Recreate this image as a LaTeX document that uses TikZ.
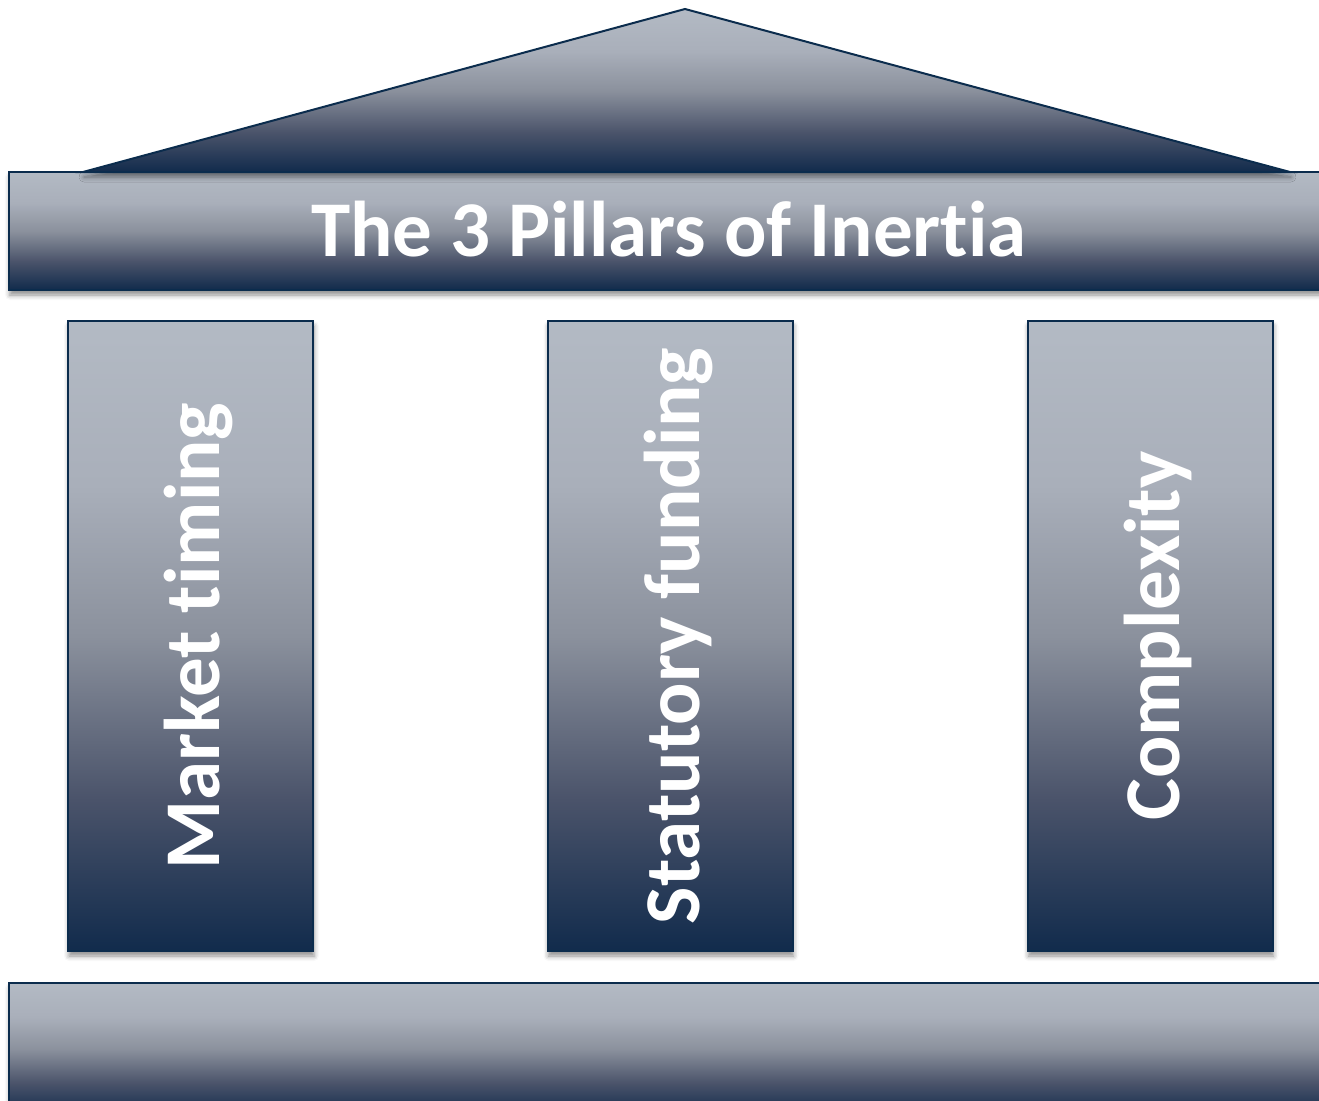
\documentclass[tikz,border=0pt]{standalone}
\usepackage{fontspec}
\setmainfont[Ligatures=NoCommon]{Carlito}
\usetikzlibrary{shadows.blur}

\definecolor{navy}{HTML}{0B2C4D}
\definecolor{slateA}{HTML}{112B4C}
\definecolor{slateB}{HTML}{4A536A}
\definecolor{slateC}{HTML}{8B919D}
\definecolor{slateD}{HTML}{A9AFBA}
\definecolor{slateE}{HTML}{B3BAC4}

% light at the top, dark navy at the bottom
\pgfdeclareverticalshading{slate}{100bp}{color(0bp)=(slateA); color(25bp)=(slateA);
  color(37bp)=(slateB); color(50bp)=(slateC); color(62bp)=(slateD);
  color(75bp)=(slateE); color(100bp)=(slateE)}

\tikzset{
  stone/.style={draw=navy, line width=2pt, shading=slate,
    blur shadow={shadow xshift=1pt, shadow yshift=-5pt, shadow blur radius=5pt, shadow opacity=45}},
  pillarbox/.style={stone, rectangle, inner sep=0pt, minimum width=245pt, minimum height=630pt},
  pillartext/.style={rotate=90, text=white, font=\fontsize{79}{90}\selectfont\bfseries, inner sep=0pt},
  titletext/.style={text=white, font=\fontsize{79}{90}\selectfont\bfseries, inner sep=0pt},
}

\begin{document}
\begin{tikzpicture}[x=1pt, y=-1pt]
  \useasboundingbox (0,0) rectangle (1319,1100);

  % entablature beam
  \path[stone] (9,172) rectangle (1330,290);
  \coordinate (beamc) at (669,256);

  % pediment
  \path[stone] (83,172) -- (685,9) -- (1290,172) -- cycle;

  % base slab
  \path[stone] (9,983) rectangle (1330,1115);

  % pillars
  \node[pillarbox] (p1) at (190.5,636) {};
  \node[pillarbox] (p2) at (670,636) {};
  \node[pillarbox] (p3) at (1150,636) {};

  \node[pillartext] (t1) at ([xshift=8pt]p1.center) {Market timing};
  \node[pillartext] (t2) at ([xshift=8pt]p2.center) {Statutory funding};
  \node[pillartext] (t3) at ([xshift=8pt]p3.center) {Complexity};

  \node[titletext, anchor=base] (title) at (beamc) {The 3 Pillars of Inertia};
\end{tikzpicture}
\end{document}
